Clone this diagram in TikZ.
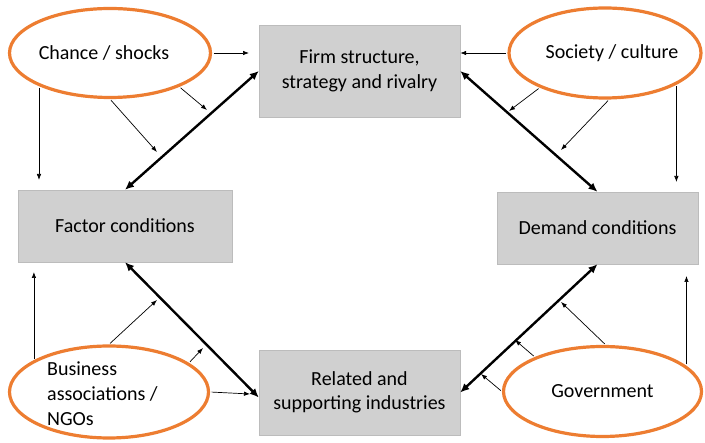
\documentclass[tikz,border=0pt]{standalone}
\usepackage{fontspec}
\setmainfont{Carlito}
\usetikzlibrary{arrows.meta, shapes.geometric, positioning}
\definecolor{shockorange}{RGB}{237,125,49}
\definecolor{boxgray}{RGB}{208,208,208}
\definecolor{boxedge}{RGB}{188,188,188}

\begin{document}
\begin{tikzpicture}[x=1pt, y=-1pt,
        force/.style={ellipse, draw=shockorange, line width=3.2pt, fill=white, inner sep=0pt,
            font=\fontsize{20}{25}\selectfont},
        diamondbox/.style={rectangle, draw=boxedge, fill=boxgray, inner sep=0pt, align=center,
            font=\fontsize{20}{24.5}\selectfont},
        link/.style={line width=2.4pt, {Latex[length=9pt,width=8pt]}-{Latex[length=9pt,width=8pt]}},
        nudge/.style={line width=0.7pt, shorten <=1.5pt, -{Latex[length=6pt,width=4.5pt]}}]
    \useasboundingbox (0,0) rectangle (705,443);

    % the four corners of the diamond
    \node[diamondbox, minimum width=201pt, minimum height=92pt] (firm) at (359.5,71) {Firm structure,\\strategy and rivalry};
    \node[diamondbox, minimum width=214pt, minimum height=72pt] (factor) at (125,226) {Factor conditions};
    \node[diamondbox, minimum width=201pt, minimum height=72pt] (demand) at (597.5,228) {Demand conditions};
    \node[diamondbox, minimum width=201pt, minimum height=85pt] (related) at (359.5,392.5) {Related and\\supporting industries};

    % outside forces
    \node[force, minimum width=201pt, minimum height=89pt,
        label={[xshift=-6pt, font=\fontsize{20}{25}\selectfont]center:Chance / shocks}] (chance) at (110,53) {};
    \node[force, minimum width=192pt, minimum height=90pt,
        label={[xshift=7pt, font=\fontsize{20}{25}\selectfont]center:Society / culture}] (society) at (605,53) {};
    \node[force, minimum width=199pt, minimum height=92pt] (business) at (109,392) {};
    \node[anchor=west, align=left, inner sep=0pt, font=\fontsize{20}{25}\selectfont] (businesslabel) at (47,394) {Business\\associations /\\NGOs};
    \node[force, minimum width=198pt, minimum height=90pt] (government) at (602.5,391.5) {Government};

    \draw[link] (factor.north) -- (firm.west);
    \draw[link] (firm.east) -- (demand.north);
    \draw[link] (factor.south) -- ([yshift=-5pt]related.west);
    \draw[link] (related.east) -- (demand.south);

    % free ends of the thin arrows
    \coordinate (chancefoot) at (0,180);
    \coordinate (societyfoot) at (0,182);
    \coordinate (businesstop) at (0,272);
    \coordinate (governmenttop) at (0,276);
    \coordinate (c1) at (249,53);
    \coordinate (c2) at (207,110);
    \coordinate (c3) at (157,152);
    \coordinate (s2) at (509,111);
    \coordinate (s3) at (561,150);
    \coordinate (b2) at (157,300);
    \coordinate (b3) at (203,348);
    \coordinate (b4) at (250,394);
    \coordinate (g2) at (561,302);
    \coordinate (g3) at (515,340);
    \coordinate (g4) at (481,374);

    \draw[nudge] (chance.east) -- (c1);
    \draw[nudge] (chance.-26) -- (c2);
    \draw[nudge] (chance.south) -- (c3);
    \draw[nudge] (chance.-155) -- (chance.-155 |- chancefoot);
    \draw[nudge] (society.west) -- (society.west -| firm.east);
    \draw[nudge] (society.-152) -- (s2);
    \draw[nudge] (society.-85) -- (s3);
    \draw[nudge] (society.-24) -- (society.-24 |- societyfoot);
    \draw[nudge] (business.157) -- (business.157 |- businesstop);
    \draw[nudge] (business.north) -- (b2);
    \draw[nudge] (business.20) -- (b3);
    \draw[nudge] (business.east) -- (b4);
    \draw[nudge] (government.17) -- (government.17 |- governmenttop);
    \draw[nudge] (government.86) -- (g2);
    \draw[nudge] (government.153) -- (g3);
    \draw[nudge] (government.west) -- (g4);
\end{tikzpicture}
\end{document}
